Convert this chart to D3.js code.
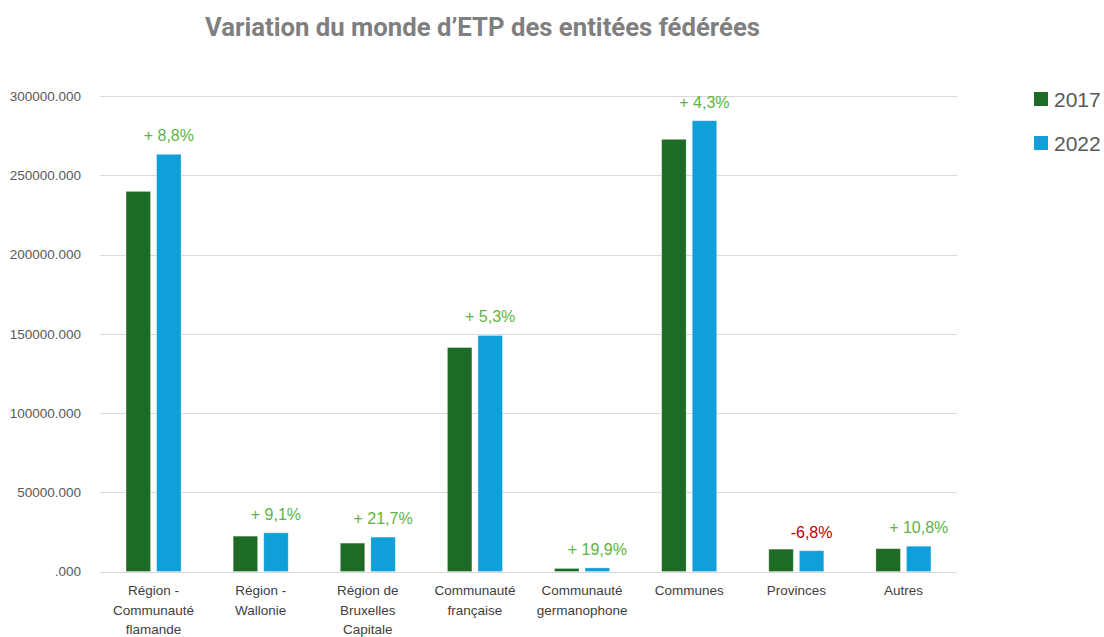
<!DOCTYPE html>
<html>
<head>
<meta charset="utf-8">
<script src="https://cdn.jsdelivr.net/npm/d3@7"></script>
<style>
  html, body { margin: 0; padding: 0; background: #ffffff; }
  svg { display: block; }
</style>
</head>
<body>
<div id="chart"></div>
<script>
const categories = [
  ["Région -", "Communauté", "flamande"],
  ["Région -", "Wallonie"],
  ["Région de", "Bruxelles", "Capitale"],
  ["Communauté", "française"],
  ["Communauté", "germanophone"],
  ["Communes"],
  ["Provinces"],
  ["Autres"]
];
const series = ["2017", "2022"];
const values2017 = [239800, 22300, 17900, 141300, 1900, 272650, 14100, 14400];
const values2022 = [263200, 24400, 21700, 148900, 2280, 284400, 13100, 15950];
const variationLabels = ["+ 8,8%", "+ 9,1%", "+ 21,7%", "+ 5,3%", "+ 19,9%", "+ 4,3%", "-6,8%", "+ 10,8%"];
const yTicks = [0, 50000, 100000, 150000, 200000, 250000, 300000];
const yTickLabels = [".000", "50000.000", "100000.000", "150000.000", "200000.000", "250000.000", "300000.000"];
const title = "Variation du monde d\u2019ETP des entitées fédérées";

const W = 1104, H = 637;
const colors = { "2017": "#1d6b25", "2022": "#109fd8" };
const plot = { left: 100, right: 957, top: 96, bottom: 571.5 };

const svg = d3.select("#chart").append("svg").attr("width", W).attr("height", H);

const idx = d3.range(categories.length);
const x0 = d3.scaleBand().domain(idx).range([plot.left, plot.right]);
const bw = x0.bandwidth();
const x1 = d3.scaleBand().domain(series).range([bw / 2 - 27.5, bw / 2 + 27.5]).paddingInner(0.2);
const y = d3.scaleLinear().domain([0, 300000]).range([plot.bottom, plot.top]);

// gridlines
svg.append("g").selectAll("line").data(yTicks).join("line")
  .attr("x1", plot.left).attr("x2", plot.right)
  .attr("y1", d => Math.round(y(d)) + 0.5).attr("y2", d => Math.round(y(d)) + 0.5)
  .attr("stroke", "#d9d9d9").attr("stroke-width", 1);

// y axis labels
const yAxis = d3.axisLeft(y).tickValues(yTicks).tickSize(0).tickPadding(0)
  .tickFormat((d, i) => yTickLabels[i]);
const gy = svg.append("g").attr("transform", "translate(81,0)").call(yAxis);
gy.select(".domain").remove();
gy.selectAll("text").attr("font-family", "Liberation Sans, Arial, sans-serif")
  .attr("font-size", "13.5px").attr("fill", "#595959");

// bars
const rows = idx.map(i => ({ i, vals: [values2017[i], values2022[i]] }));
const groups = svg.append("g").selectAll("g").data(rows).join("g")
  .attr("transform", d => `translate(${x0(d.i)},0)`);
groups.selectAll("rect").data(d => series.map((s, k) => ({ s, v: d.vals[k] }))).join("rect")
  .attr("x", d => x1(d.s)).attr("width", x1.bandwidth())
  .attr("y", d => y(d.v)).attr("height", d => y(0) - y(d.v))
  .attr("fill", d => colors[d.s])
  .attr("stroke", "#ffffff").attr("stroke-opacity", 0.35).attr("stroke-width", 0.8);

// variation labels
groups.append("text")
  .attr("x", x1("2022") + x1.bandwidth() / 2)
  .attr("y", d => y(d.vals[1]) - 13)
  .attr("text-anchor", "middle")
  .attr("font-family", "Liberation Sans, Arial, sans-serif")
  .attr("font-size", "16px")
  .attr("fill", d => variationLabels[d.i].startsWith("-") ? "#c00000" : "#5db443")
  .text(d => variationLabels[d.i]);

// x labels
const xl = svg.append("g").selectAll("text").data(idx).join("text")
  .attr("x", i => x0(i) + bw / 2)
  .attr("text-anchor", "middle")
  .attr("font-family", "Liberation Sans, Arial, sans-serif")
  .attr("font-size", "13.5px")
  .attr("fill", "#404040");
xl.selectAll("tspan").data(i => categories[i]).join("tspan")
  .attr("x", function () { return d3.select(this.parentNode).attr("x"); })
  .attr("y", (d, k) => 595 + k * 19.5)
  .text(d => d);

// legend
const leg = svg.append("g").selectAll("g").data(series).join("g")
  .attr("transform", (d, k) => `translate(1034,${92 + k * 44})`);
leg.append("rect").attr("width", 14).attr("height", 14).attr("fill", d => colors[d]);
leg.append("text").attr("x", 20).attr("y", 14.5)
  .attr("font-family", "Liberation Sans, Arial, sans-serif")
  .attr("font-size", "21px").attr("fill", "#595959").text(d => d);

// title
svg.append("text").attr("x", 205).attr("y", 36)
  .attr("font-family", "Roboto, sans-serif").attr("font-weight", 700)
  .attr("font-size", "25px").attr("fill", "#7f7f7f")
  .attr("textLength", 555).attr("lengthAdjust", "spacingAndGlyphs")
  .text(title);
</script>
</body>
</html>
